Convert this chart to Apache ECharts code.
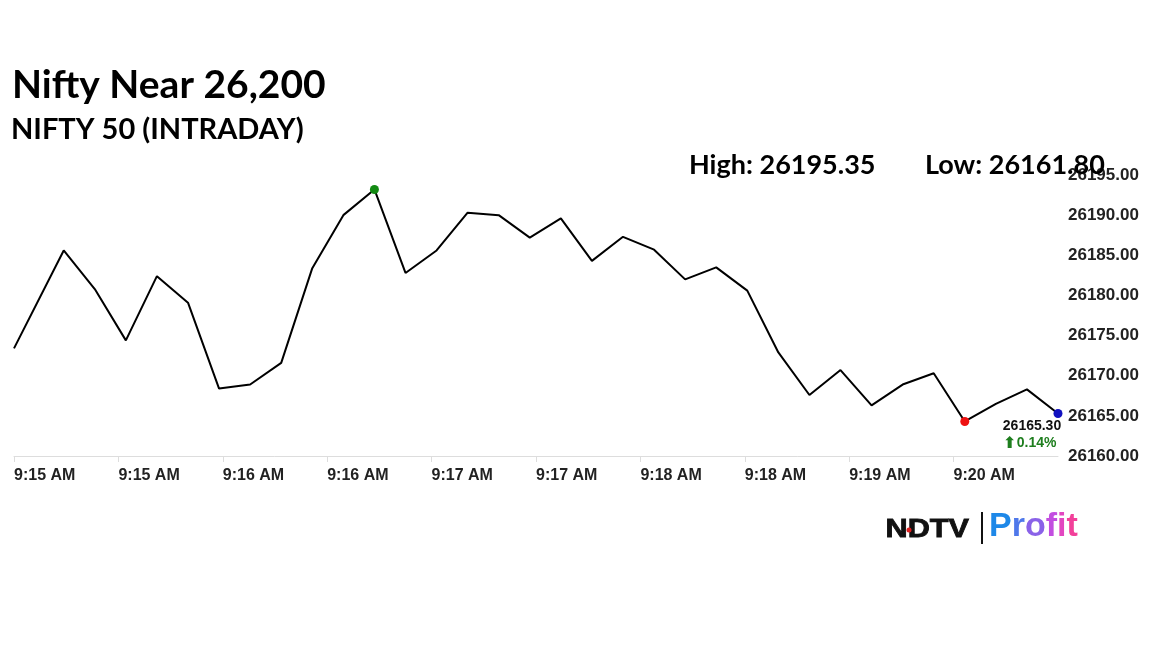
<!DOCTYPE html>
<html>
<head>
<meta charset="utf-8">
<script src="https://cdn.jsdelivr.net/npm/echarts@6/dist/echarts.min.js"></script>
<style>
html,body{margin:0;padding:0;background:#fff;}
#chart{width:1152px;height:648px;}
</style>
</head>
<body>
<div id="chart"></div>
<script>
// seconds after 9:15:00
var times = [0,16,26,36,46,56,66,76,86,96,106,116,126,136,146,156,166,176,186,196,206,216,226,236,246,256,266,276,286,296,306,316,326,336];
var values = [26173.4,26185.6,26180.8,26174.4,26182.4,26179.1,26168.4,26168.9,26171.6,26183.4,26190.0,26193.2,26182.8,26185.6,26190.3,26190.0,26187.2,26189.6,26184.3,26187.3,26185.7,26182.0,26183.5,26180.6,26172.9,26167.6,26170.7,26166.3,26168.9,26170.3,26164.3,26166.5,26168.3,26165.3];
var yTicks = [26160, 26195, 5];
var xRange = [0, 336, 33.6];
var titleText = 'Nifty Near 26,200';
var subtitleText = 'NIFTY 50 (INTRADAY)';
var highText = 'High: 26195.35';
var lowText = 'Low: 26161.80';
var lastText = '26165.30';
var changeArrow = '\u2B06';
var changeText = '0.14%';

var maxIdx = values.indexOf(Math.max.apply(null, values));
var minIdx = values.indexOf(Math.min.apply(null, values));
var lastIdx = values.length - 1;

var seriesData = times.map(function (t, i) {
  var item = { value: [t, values[i]], symbol: 'none' };
  if (i === maxIdx) { item.symbol = 'circle'; item.symbolSize = 9; item.itemStyle = { color: '#138a13' }; }
  if (i === minIdx) { item.symbol = 'circle'; item.symbolSize = 9; item.itemStyle = { color: '#ee1111' }; }
  if (i === lastIdx) {
    item.symbol = 'circle'; item.symbolSize = 9; item.itemStyle = { color: '#1111c0' };
    item.label = {
      show: true, position: 'bottom', distance: 0, offset: [-26, 0],
      formatter: '{a|' + lastText + '}\n{c|' + changeArrow + '}{b|' + changeText + '}',
      rich: {
        a: { fontFamily: 'Liberation Sans', fontWeight: 'bold', fontSize: 14, color: '#111', lineHeight: 17, align: 'left' },
        c: { fontFamily: 'DejaVu Sans', fontWeight: 'bold', fontSize: 16, color: '#1e7e1e', lineHeight: 17, align: 'left', width: 14 },
        b: { fontFamily: 'Liberation Sans', fontWeight: 'bold', fontSize: 14, color: '#1e7e1e', lineHeight: 17, align: 'left' }
      }
    };
  }
  return item;
});

function fmtTime(v) {
  var m = 15 + Math.floor((v + 1e-6) / 60);
  return '9:' + (m < 10 ? '0' + m : m) + ' AM';
}

var labelFont = { fontFamily: 'Liberation Sans', fontWeight: 'bold', color: '#222' };

var chart = echarts.init(document.getElementById('chart'), null, { renderer: 'canvas' });
chart.setOption({
  animation: false,
  backgroundColor: '#ffffff',
  grid: { left: 14, right: 94, top: 175, bottom: 192, containLabel: false },
  xAxis: {
    type: 'value', min: xRange[0], max: xRange[1], interval: xRange[2],
    axisLine: { show: true, lineStyle: { color: '#dddddd', width: 1 } },
    axisTick: { show: true, length: 6, lineStyle: { color: '#dddddd' } },
    splitLine: { show: false },
    axisLabel: {
      show: true, showMaxLabel: false, align: 'left', margin: 12,
      fontFamily: labelFont.fontFamily, fontWeight: labelFont.fontWeight, color: labelFont.color, fontSize: 16,
      formatter: fmtTime
    }
  },
  yAxis: {
    type: 'value', position: 'right', min: yTicks[0], max: yTicks[1], interval: yTicks[2],
    axisLine: { show: false }, axisTick: { show: false }, splitLine: { show: false },
    axisLabel: {
      margin: 10, padding: [4, 0, 0, 0],
      fontFamily: labelFont.fontFamily, fontWeight: labelFont.fontWeight, color: labelFont.color, fontSize: 17,
      formatter: function (v) { return v.toFixed(2); }
    }
  },
  series: [{
    type: 'line',
    data: seriesData,
    showSymbol: true, showAllSymbol: true,
    lineStyle: { color: '#000', width: 2 },
    itemStyle: { color: '#000' },
    emphasis: { disabled: true },
    silent: true,
    z: 3
  }],
  graphic: [
    { type: 'text', left: 12, top: 66, style: { text: titleText, fontFamily: 'Lato', fontWeight: 'bold', fontSize: 39, fill: '#000' } },
    { type: 'text', left: 11, top: 115, style: { text: subtitleText, fontFamily: 'Lato', fontWeight: 'bold', fontSize: 29, fill: '#000' } },
    { type: 'text', left: 689, top: 152, style: { text: highText, fontFamily: 'Lato', fontWeight: 'bold', fontSize: 27, fill: '#000' } },
    { type: 'text', left: 925, top: 152, style: { text: lowText, fontFamily: 'Lato', fontWeight: 'bold', fontSize: 27, fill: '#000' }, z: 10 },
    { type: 'text', left: 885, top: 516, scaleX: 1.18, style: { text: 'NDTV', fontFamily: 'Liberation Sans', fontWeight: 900, fontSize: 26, fill: '#111', stroke: '#111', lineWidth: 0.8 } },
    { type: 'circle', shape: { cx: 909, cy: 530, r: 2.5 }, style: { fill: '#e02020' }, z: 20 },
    { type: 'rect', shape: { x: 981, y: 512, width: 2, height: 32 }, style: { fill: '#111' } },
    { type: 'text', left: 989, top: 510, style: {
        text: '{p|P}{r|r}{o|o}{f|f}{i|i}{t|t}',
        fontFamily: 'Liberation Sans', fontWeight: 'bold', fontSize: 34,
        rich: {
          p: { fontFamily: 'Liberation Sans', fontWeight: 'bold', fontSize: 34, fill: '#1e88e8' },
          r: { fontFamily: 'Liberation Sans', fontWeight: 'bold', fontSize: 34, fill: '#4f78ea' },
          o: { fontFamily: 'Liberation Sans', fontWeight: 'bold', fontSize: 34, fill: '#8a62e8' },
          f: { fontFamily: 'Liberation Sans', fontWeight: 'bold', fontSize: 34, fill: '#c24ee0' },
          i: { fontFamily: 'Liberation Sans', fontWeight: 'bold', fontSize: 34, fill: '#e246c0' },
          t: { fontFamily: 'Liberation Sans', fontWeight: 'bold', fontSize: 34, fill: '#f2409a' }
        }
      } }
  ]
});
</script>
</body>
</html>
